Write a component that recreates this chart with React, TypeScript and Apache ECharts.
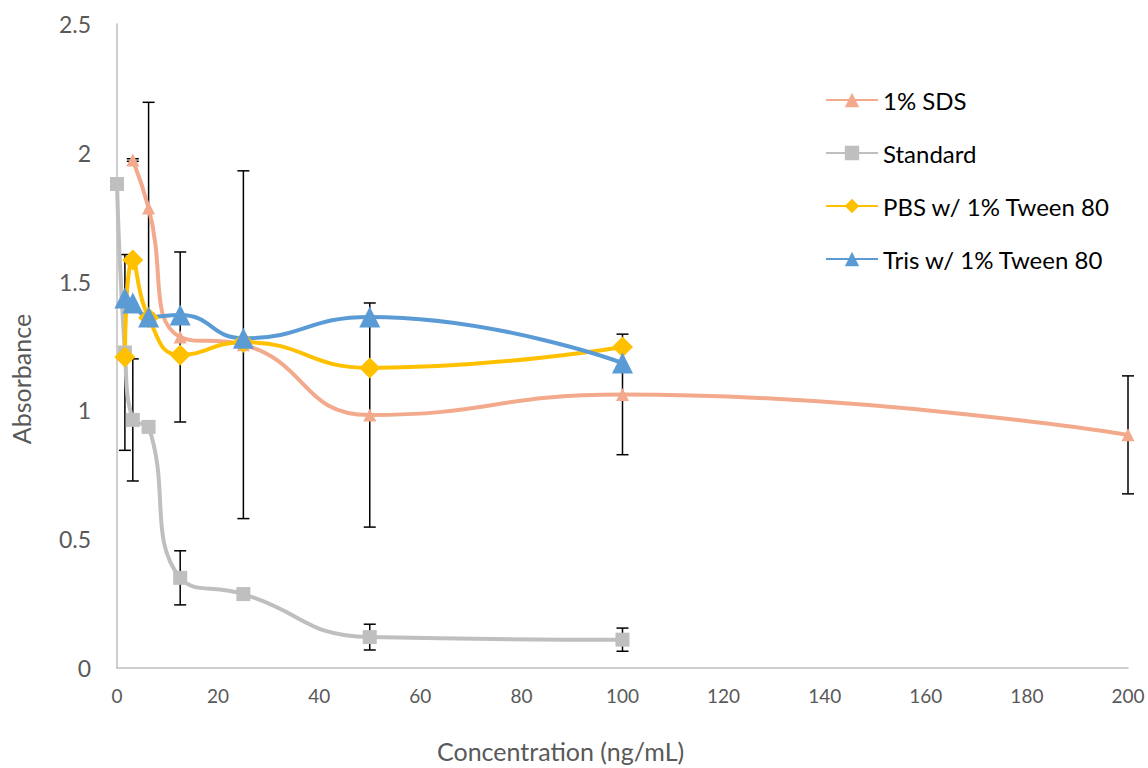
import React, { useEffect, useRef } from "react";
import * as echarts from "echarts";

const xTicks = [0, 20, 40, 60, 80, 100, 120, 140, 160, 180, 200];

const sdsX = [3.125, 6.25, 12.5, 25, 50, 100, 200];
const sdsY = [1.972, 1.786, 1.285, 1.255, 0.982, 1.062, 0.905];
const sdsErr = [0.005, 0.41, 0.33, 0.675, 0.435, 0.234, 0.229];

const stdX = [0, 1.5625, 3.125, 6.25, 12.5, 25, 50, 100];
const stdY = [1.879, 1.225, 0.963, 0.936, 0.35, 0.287, 0.12, 0.11];
const stdErr = [0, 0.38, 0.237, 0, 0.105, 0, 0.05, 0.045];

const pbsX = [1.5625, 3.125, 6.25, 12.5, 25, 50, 100];
const pbsY = [1.207, 1.584, 1.36, 1.215, 1.265, 1.165, 1.246];

const trisX = [1.5625, 3.125, 6.25, 12.5, 25, 50, 100];
const trisY = [1.436, 1.417, 1.363, 1.37, 1.28, 1.363, 1.184];

const FONT = "Lato";

function pairs(xs: number[], ys: number[]) {
  return xs.map((x, i) => [x, ys[i]]);
}

function errData(xs: number[], ys: number[], es: number[]) {
  const out: number[][] = [];
  xs.forEach((x, i) => {
    if (es[i] > 0) out.push([x, ys[i] - es[i], ys[i] + es[i]]);
  });
  return out;
}

function errSeries(data: number[][]) {
  return {
    type: "custom",
    silent: true,
    data,
    encode: { x: 0, y: [1, 2] },
    renderItem: (params: any, api: any) => {
      const x = api.value(0);
      const lo = api.coord([x, api.value(1)]);
      const hi = api.coord([x, api.value(2)]);
      const cap = 6;
      const style = { stroke: "#000000", lineWidth: 1.5 };
      return {
        type: "group",
        children: [
          { type: "line", shape: { x1: lo[0], y1: lo[1], x2: hi[0], y2: hi[1] }, style },
          { type: "line", shape: { x1: lo[0] - cap, y1: lo[1], x2: lo[0] + cap, y2: lo[1] }, style },
          { type: "line", shape: { x1: hi[0] - cap, y1: hi[1], x2: hi[0] + cap, y2: hi[1] }, style },
        ],
      };
    },
  };
}

function lineSeries(name: string, data: number[][], color: string, symbol: string, size: number, width: number) {
  return {
    name,
    type: "line",
    data,
    smooth: 0.5,
    symbol,
    symbolSize: size,
    showAllSymbol: true,
    lineStyle: { color, width },
    itemStyle: { color },
    emphasis: { disabled: true },
  };
}

export default function App() {
  const ref = useRef<HTMLDivElement>(null);
  useEffect(() => {
    if (!ref.current) return;
    const chart = echarts.init(ref.current, undefined, { renderer: "svg" });
    chart.setOption({
      animation: false,
      backgroundColor: "#ffffff",
      textStyle: { fontFamily: FONT },
      grid: { left: 117, right: 20, top: 24, bottom: 100, containLabel: false },
      legend: {
        orient: "vertical",
        left: 820,
        top: 82,
        itemWidth: 52,
        itemHeight: 18,
        itemGap: 27,
        textStyle: { fontFamily: FONT, fontSize: 24, color: "#000000", lineHeight: 26 },
        data: ["1% SDS", "Standard", "PBS w/ 1% Tween 80", "Tris w/ 1% Tween 80"],
      },
      xAxis: {
        type: "value",
        min: xTicks[0],
        max: xTicks[xTicks.length - 1],
        interval: 20,
        axisLine: { show: true, lineStyle: { color: "#BFBFBF", width: 1.5 } },
        axisTick: { show: false },
        splitLine: { show: false },
        axisLabel: { fontFamily: FONT, fontSize: 19, color: "#595959", margin: 18 },
      },
      yAxis: {
        type: "value",
        min: 0,
        max: 2.5,
        interval: 0.5,
        axisLine: { show: true, lineStyle: { color: "#BFBFBF", width: 1.5 } },
        axisTick: { show: false },
        splitLine: { show: false },
        axisLabel: { fontFamily: FONT, fontSize: 23, color: "#595959", margin: 26 },
      },
      graphic: [
        {
          type: "text",
          left: 437,
          top: 738,
          style: { text: "Concentration (ng/mL)", fontFamily: FONT, fontSize: 25, fill: "#595959" },
        },
        {
          type: "text",
          x: 21,
          y: 379,
          rotation: Math.PI / 2,
          style: {
            text: "Absorbance",
            fontFamily: FONT,
            fontSize: 25,
            fill: "#595959",
            textAlign: "center",
            textVerticalAlign: "middle",
          },
        },
      ],
      series: [
        errSeries(errData(sdsX, sdsY, sdsErr)),
        lineSeries("1% SDS", pairs(sdsX, sdsY), "#F2A98C", "triangle", 13, 4),
        errSeries(errData(stdX, stdY, stdErr)),
        lineSeries("Standard", pairs(stdX, stdY), "#BFBFBF", "rect", 14, 4),
        lineSeries("PBS w/ 1% Tween 80", pairs(pbsX, pbsY), "#FFC000", "diamond", 21, 4),
        lineSeries("Tris w/ 1% Tween 80", pairs(trisX, trisY), "#5B9BD5", "triangle", 21, 4),
      ],
    });
    return () => chart.dispose();
  }, []);
  return (
    <div
      ref={ref}
      style={{ position: "fixed", left: 0, top: 0, width: 1148, height: 768, background: "#fff" }}
    />
  );
}
